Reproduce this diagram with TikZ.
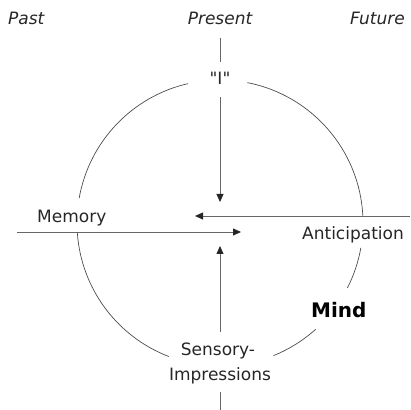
\documentclass[tikz,border=0pt]{standalone}
\usepackage{fontspec}
\setmainfont{DejaVu Sans}
\usetikzlibrary{arrows.meta}
\begin{document}
\begin{tikzpicture}[x=1pt,y=1pt,
 lbl/.style={inner sep=0pt, font=\fontsize{17}{20}\selectfont, text=black!85},
 tlbl/.style={lbl, font=\fontsize{17}{20}\selectfont\itshape},
 mlbl/.style={lbl, font=\fontsize{20}{24}\selectfont\bfseries, text=black},
 axis/.style={draw=black!60, line width=0.8pt},
 arr/.style={axis, -{Stealth[length=8pt,width=7pt,inset=0pt,color=black!85]}},
 ring/.style={draw=black!70, line width=0.7pt}]
\path[use as bounding box] (0,0) rectangle (410,410);
\coordinate (C) at (220,187);
% labels
\node[tlbl, anchor=base west] (past) at (8,385) {Past};
\node[tlbl, anchor=base] (present) at (220,385) {Present};
\node[tlbl, anchor=base east] (future) at (405,385) {Future};
\node[lbl, anchor=base] (ego) at (220,325) {\textquotedbl I\textquotedbl};
\node[lbl, anchor=base west] (memory) at (37,187) {Memory};
\node[lbl, anchor=base west] (antic) at (302,170) {Anticipation};
\node[mlbl, anchor=base west] (mind) at (311,92) {Mind};
\node[lbl, anchor=base] (sens) at (218,54) {Sensory-};
\node[lbl, anchor=base] (impr) at (220,30) {Impressions};
% coordinates
\coordinate (t1) at (220,372);
\coordinate (t2) at (220,348);
\coordinate (a1) at (220,313);
\coordinate (a2) at (220,208);
\coordinate (m1) at (17,178);
\coordinate (m2) at (241,178);
\coordinate (n1) at (410,194);
\coordinate (n2) at (195,194);
\coordinate (b1) at (220,78);
\coordinate (b2) at (220,164);
\coordinate (b3) at (220,18);
\coordinate (b4) at (220,0);
% circle arcs
\draw[ring] (C) ++(3:143) arc[start angle=3, end angle=79, radius=143];
\draw[ring] (C) ++(103:143) arc[start angle=103, end angle=170, radius=143];
\draw[ring] (C) ++(184:143) arc[start angle=184, end angle=249, radius=143];
\draw[ring] (C) ++(292:143) arc[start angle=292, end angle=312, radius=143];
\draw[ring] (C) ++(333:143) arc[start angle=333, end angle=350, radius=143];
% lines and arrows
\draw[axis] (t1) -- (t2);
\draw[arr] (a1) -- (a2);
\draw[arr] (m1) -- (m2);
\draw[arr] (n1) -- (n2);
\draw[arr] (b1) -- (b2);
\draw[axis] (b3) -- (b4);
\end{tikzpicture}
\end{document}
